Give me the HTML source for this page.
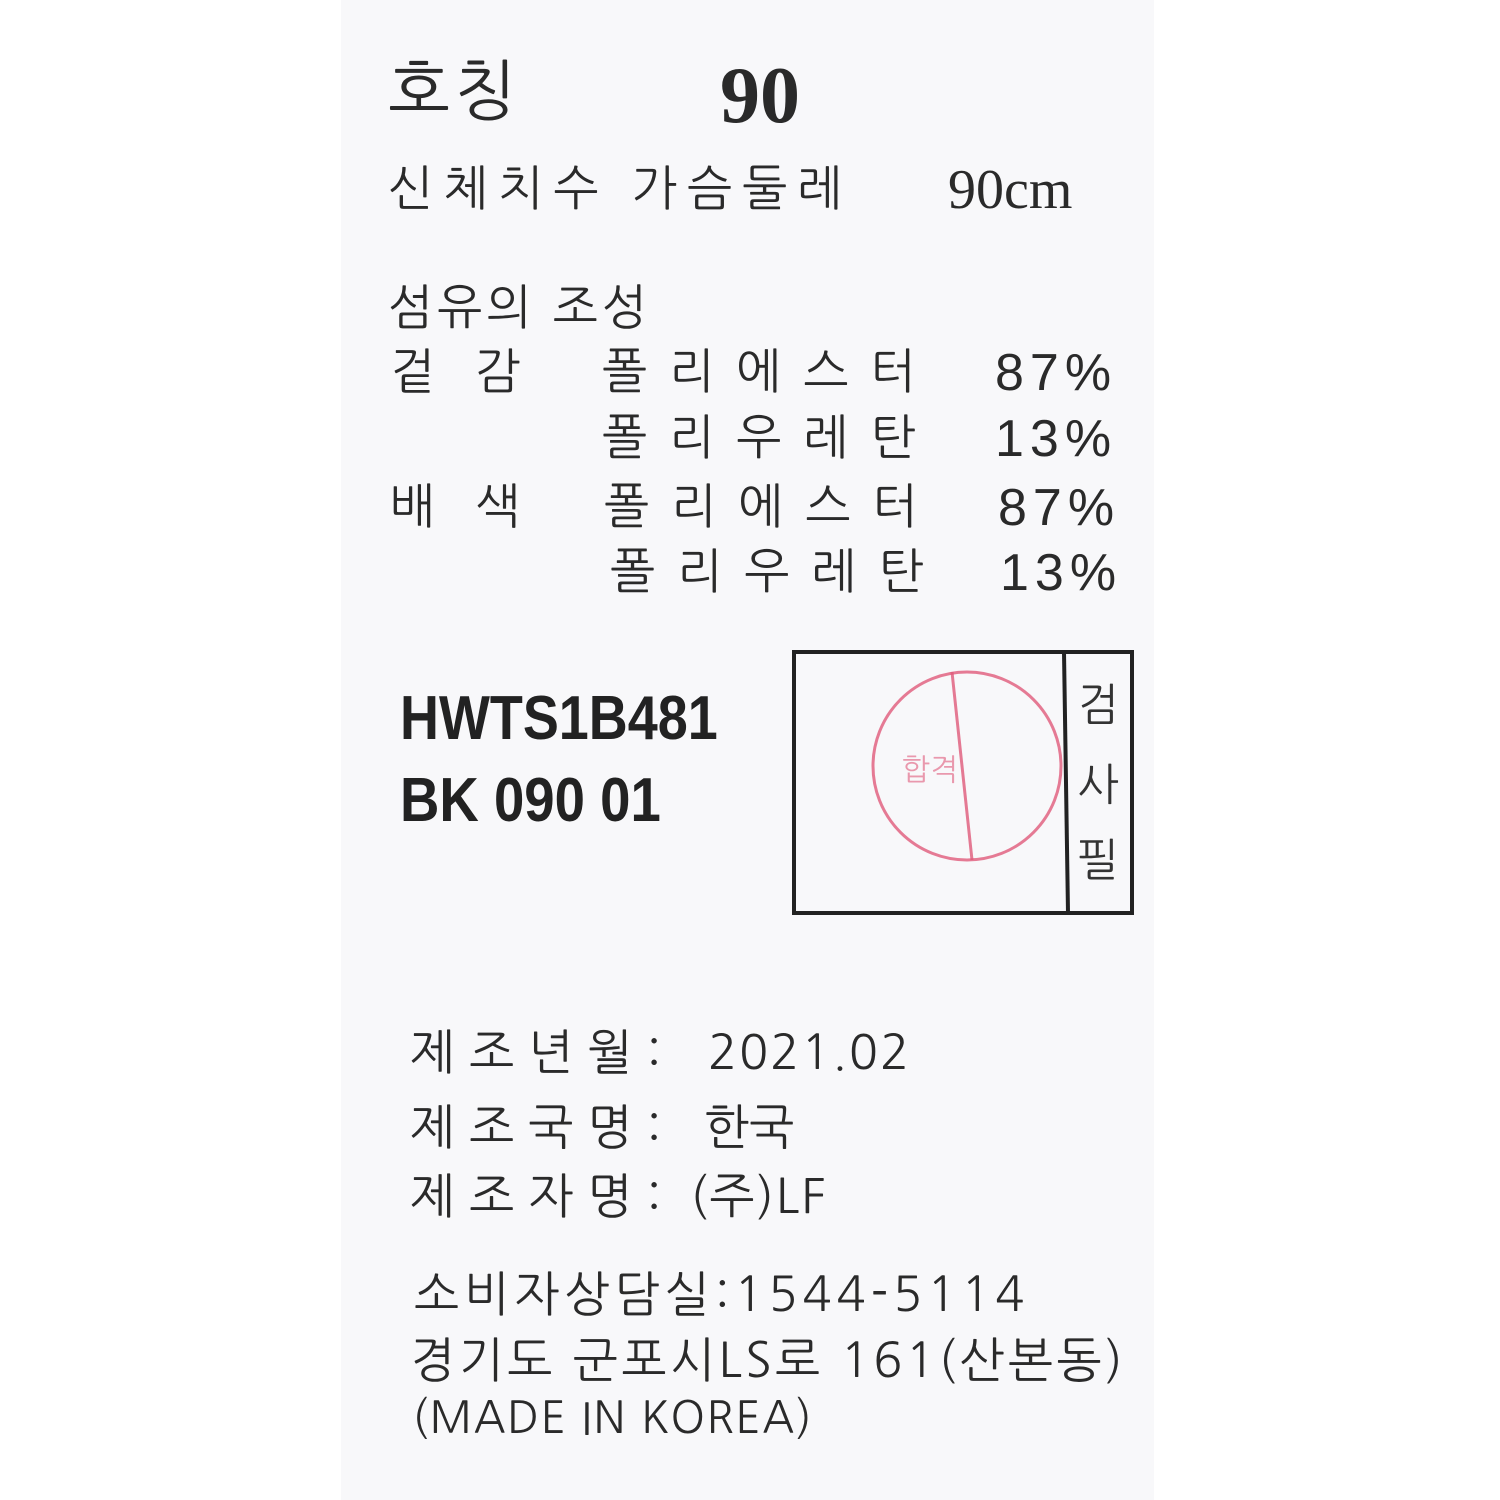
<!DOCTYPE html>
<html><head><meta charset="utf-8"><style>
body{margin:0;width:1500px;height:1500px;background:#fff;position:relative;overflow:hidden;font-family:"Liberation Sans","NanumGothic","Noto Sans CJK KR",sans-serif;color:#2a2a2a}
#label{position:absolute;left:341px;top:0;width:813px;height:1500px;background:#f8f8fa}
.t{position:absolute;white-space:nowrap;line-height:1;font-weight:300}
.k{font-family:"NanumGothic","Noto Sans CJK KR",sans-serif;font-size:48px;letter-spacing:4px}
.p{font-size:52px;letter-spacing:4px}
.code{font-family:"Liberation Sans",sans-serif;font-weight:bold;font-size:62px;transform-origin:left top;color:#222}
</style></head><body>
<div id="label"></div>
<div class="t k" style="left:388px;top:58px;font-size:66px">호칭</div>
<div class="t" style="left:720px;top:56px;font-family:'Liberation Serif',serif;font-weight:bold;font-size:80px">90</div>
<div class="t k" style="left:388px;top:164px;font-size:48px;letter-spacing:10px">신체치수 가슴둘레</div>
<div class="t" style="left:948px;top:162px;font-family:'Liberation Serif',serif;font-size:56px">90cm</div>
<div class="t k" style="left:388px;top:283px">섬유의 조성</div>
<div class="t k" style="left:390px;top:347px;letter-spacing:40px">겉감</div>
<div class="t k" style="left:602px;top:347px;letter-spacing:22px">폴리에스터</div>
<div class="t p" style="left:995px;top:347px;letter-spacing:6px">87%</div>
<div class="t k" style="left:602px;top:413px;letter-spacing:22px">폴리우레탄</div>
<div class="t p" style="left:995px;top:413px;letter-spacing:6px">13%</div>
<div class="t k" style="left:390px;top:482px;letter-spacing:40px">배색</div>
<div class="t k" style="left:604px;top:482px;letter-spacing:22px">폴리에스터</div>
<div class="t p" style="left:998px;top:482px;letter-spacing:6px">87%</div>
<div class="t k" style="left:610px;top:547px;letter-spacing:22px">폴리우레탄</div>
<div class="t p" style="left:1000px;top:547px;letter-spacing:6px">13%</div>
<div class="t code" style="left:400px;top:688px;transform:scaleX(0.87)">HWTS1B481</div>
<div class="t code" style="left:400px;top:770px;transform:scaleX(0.88)">BK 090 01</div>
<svg style="position:absolute;left:780px;top:630px" width="380" height="300">
<rect x="14" y="22" width="338" height="261" fill="none" stroke="#222" stroke-width="4"/>
<line x1="284" y1="22" x2="288" y2="283" stroke="#222" stroke-width="4"/>
<circle cx="187" cy="136" r="94" fill="none" stroke="#e05a7a" stroke-width="3" opacity="0.8"/>
<line x1="172" y1="42" x2="192" y2="230" stroke="#e05a7a" stroke-width="3" opacity="0.8"/>
<text x="318" y="90" font-size="44" text-anchor="middle" fill="#333" font-family="NanumGothic,'Noto Sans CJK KR',sans-serif">검</text>
<text x="318" y="170" font-size="44" text-anchor="middle" fill="#333" font-family="NanumGothic,'Noto Sans CJK KR',sans-serif">사</text>
<text x="318" y="245" font-size="44" text-anchor="middle" fill="#333" font-family="NanumGothic,'Noto Sans CJK KR',sans-serif">필</text>
<text x="150" y="150" font-size="30" text-anchor="middle" fill="#e05a7a" opacity="0.6" font-family="NanumGothic,sans-serif">합격</text>
</svg>
<div class="t k" style="left:410px;top:1028px;letter-spacing:14px">제조년월:</div>
<div class="t k" style="left:708px;top:1028px;letter-spacing:2px">2021.02</div>
<div class="t k" style="left:410px;top:1103px;letter-spacing:14px">제조국명:</div>
<div class="t k" style="left:704px;top:1103px;letter-spacing:0px">한국</div>
<div class="t k" style="left:410px;top:1172px;letter-spacing:14px">제조자명:</div>
<div class="t k" style="left:690px;top:1172px;letter-spacing:2px">(주)LF</div>
<div class="t k" style="left:414px;top:1270px;letter-spacing:5px">소비자상담실:1544-5114</div>
<div class="t k" style="left:410px;top:1336px;letter-spacing:3.5px">경기도 군포시LS로 161(산본동)</div>
<div class="t k" style="left:412px;top:1396px;font-size:44px;letter-spacing:1.5px">(MADE IN KOREA)</div>
</body></html>
